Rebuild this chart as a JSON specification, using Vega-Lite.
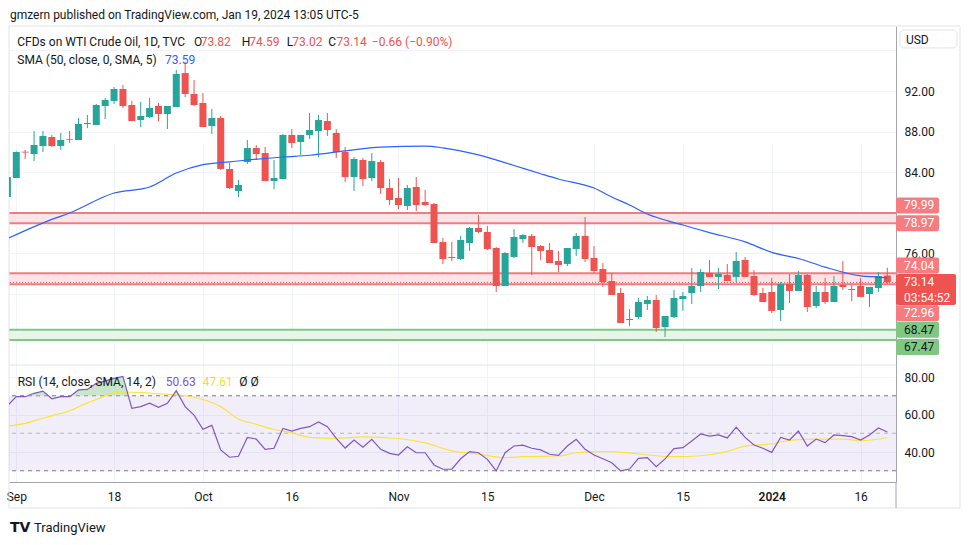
{
"$schema": "https://vega.github.io/schema/vega-lite/v6.json",
"width": 887, "height": 456,
"autosize": {"type": "none"},
"padding": {"left": 9, "top": 26, "right": 74, "bottom": 63},
"background": "white",
"datasets": {
"ohlc": [
{"i":0,"o":81.56,"h":83.73,"l":81.36,"c":83.53,"r":64.6},
{"i":1,"o":83.43,"h":86.05,"l":83.43,"c":85.99,"r":69.5},
{"i":2,"o":86.02,"h":86.19,"l":85.30,"c":85.94,"r":69.5},
{"i":3,"o":85.79,"h":88.06,"l":85.10,"c":86.68,"r":71.3},
{"i":4,"o":86.58,"h":88.06,"l":85.99,"c":87.57,"r":72.5},
{"i":5,"o":87.47,"h":87.67,"l":86.48,"c":86.58,"r":68.4},
{"i":6,"o":86.58,"h":87.86,"l":86.19,"c":87.17,"r":69.5},
{"i":7,"o":87.27,"h":88.06,"l":86.88,"c":87.20,"r":69.5},
{"i":8,"o":87.17,"h":89.34,"l":87.17,"c":88.75,"r":73.1},
{"i":9,"o":88.75,"h":89.64,"l":88.36,"c":88.85,"r":73.4},
{"i":10,"o":88.65,"h":90.72,"l":88.65,"c":90.62,"r":76.6},
{"i":11,"o":90.52,"h":91.31,"l":89.24,"c":91.11,"r":77.9},
{"i":12,"o":91.02,"h":92.39,"l":90.72,"c":92.20,"r":79.3},
{"i":13,"o":92.20,"h":92.59,"l":90.33,"c":90.52,"r":80.3},
{"i":14,"o":90.62,"h":91.02,"l":89.04,"c":89.04,"r":63.3},
{"i":15,"o":89.14,"h":90.92,"l":88.45,"c":89.54,"r":64.2},
{"i":16,"o":89.44,"h":91.31,"l":89.34,"c":90.33,"r":66.0},
{"i":17,"o":90.52,"h":90.82,"l":89.04,"c":89.73,"r":63.8},
{"i":18,"o":89.73,"h":90.52,"l":88.26,"c":90.52,"r":66.0},
{"i":19,"o":90.42,"h":94.07,"l":90.42,"c":93.68,"r":72.7},
{"i":20,"o":93.77,"h":94.86,"l":91.41,"c":91.71,"r":64.2},
{"i":21,"o":91.71,"h":93.08,"l":90.52,"c":90.62,"r":59.7},
{"i":22,"o":90.82,"h":91.80,"l":88.45,"c":88.45,"r":52.1},
{"i":23,"o":88.55,"h":90.23,"l":87.76,"c":89.34,"r":54.2},
{"i":24,"o":89.34,"h":89.54,"l":84.22,"c":84.32,"r":41.1},
{"i":25,"o":84.32,"h":84.91,"l":82.34,"c":82.44,"r":37.2},
{"i":26,"o":82.15,"h":83.23,"l":81.56,"c":82.74,"r":37.7},
{"i":27,"o":85.00,"h":87.17,"l":84.81,"c":86.38,"r":47.8},
{"i":28,"o":86.38,"h":86.68,"l":85.20,"c":85.79,"r":46.9},
{"i":29,"o":85.89,"h":86.48,"l":83.13,"c":83.13,"r":41.4},
{"i":30,"o":83.13,"h":85.20,"l":82.34,"c":83.43,"r":42.0},
{"i":31,"o":83.33,"h":87.76,"l":83.33,"c":87.67,"r":52.6},
{"i":32,"o":87.67,"h":88.26,"l":86.38,"c":86.88,"r":51.2},
{"i":33,"o":86.98,"h":87.67,"l":85.69,"c":87.67,"r":52.6},
{"i":34,"o":87.67,"h":89.83,"l":87.27,"c":88.16,"r":53.5},
{"i":35,"o":88.06,"h":89.64,"l":85.50,"c":89.14,"r":56.0},
{"i":36,"o":89.04,"h":89.83,"l":87.57,"c":88.16,"r":53.5},
{"i":37,"o":87.86,"h":88.26,"l":85.40,"c":85.99,"r":47.3},
{"i":38,"o":85.99,"h":86.48,"l":83.03,"c":83.53,"r":42.1},
{"i":39,"o":83.53,"h":85.50,"l":82.15,"c":85.30,"r":46.4},
{"i":40,"o":85.20,"h":85.40,"l":82.64,"c":83.33,"r":42.5},
{"i":41,"o":83.43,"h":85.89,"l":83.13,"c":85.10,"r":46.8},
{"i":42,"o":85.00,"h":85.20,"l":81.85,"c":82.44,"r":41.4},
{"i":43,"o":82.44,"h":83.33,"l":80.77,"c":81.26,"r":39.3},
{"i":44,"o":81.46,"h":83.43,"l":80.37,"c":80.77,"r":38.4},
{"i":45,"o":80.67,"h":82.74,"l":80.28,"c":82.44,"r":42.8},
{"i":46,"o":82.54,"h":83.53,"l":80.18,"c":80.77,"r":39.6},
{"i":47,"o":81.07,"h":82.25,"l":80.67,"c":80.77,"r":39.6},
{"i":48,"o":80.87,"h":80.97,"l":77.02,"c":77.02,"r":33.1},
{"i":49,"o":77.12,"h":77.52,"l":74.96,"c":75.45,"r":30.8},
{"i":50,"o":75.65,"h":77.12,"l":75.25,"c":75.55,"r":30.8},
{"i":51,"o":75.45,"h":77.72,"l":75.35,"c":77.32,"r":36.4},
{"i":52,"o":77.02,"h":78.60,"l":76.24,"c":78.50,"r":40.2},
{"i":53,"o":78.50,"h":79.78,"l":78.01,"c":78.11,"r":39.6},
{"i":54,"o":78.11,"h":78.70,"l":76.33,"c":76.43,"r":36.1},
{"i":55,"o":76.53,"h":76.63,"l":72.20,"c":72.79,"r":29.9},
{"i":56,"o":72.79,"h":76.14,"l":72.79,"c":76.04,"r":39.6},
{"i":57,"o":75.65,"h":78.40,"l":75.55,"c":77.62,"r":43.2},
{"i":58,"o":77.42,"h":77.91,"l":77.02,"c":77.81,"r":43.7},
{"i":59,"o":77.72,"h":77.91,"l":73.87,"c":76.63,"r":42.0},
{"i":60,"o":76.73,"h":76.83,"l":75.35,"c":76.24,"r":41.1},
{"i":61,"o":76.33,"h":77.02,"l":75.05,"c":75.05,"r":38.8},
{"i":62,"o":75.25,"h":76.24,"l":74.17,"c":74.86,"r":38.2},
{"i":63,"o":74.96,"h":76.53,"l":74.76,"c":76.53,"r":43.2},
{"i":64,"o":76.43,"h":78.01,"l":75.74,"c":77.72,"r":46.8},
{"i":65,"o":77.72,"h":79.59,"l":75.15,"c":75.45,"r":41.4},
{"i":66,"o":75.55,"h":76.73,"l":74.07,"c":74.27,"r":38.4},
{"i":67,"o":74.46,"h":75.05,"l":72.69,"c":73.18,"r":36.4},
{"i":68,"o":73.28,"h":74.07,"l":71.90,"c":71.90,"r":34.3},
{"i":69,"o":72.10,"h":72.59,"l":69.14,"c":69.14,"r":29.9},
{"i":70,"o":69.44,"h":70.52,"l":68.85,"c":69.54,"r":30.9},
{"i":71,"o":69.73,"h":71.61,"l":69.54,"c":71.21,"r":36.6},
{"i":72,"o":71.02,"h":71.80,"l":70.42,"c":71.41,"r":37.0},
{"i":73,"o":71.41,"h":71.90,"l":68.26,"c":68.65,"r":32.2},
{"i":74,"o":68.75,"h":69.83,"l":67.77,"c":69.83,"r":36.3},
{"i":75,"o":69.73,"h":72.39,"l":69.64,"c":71.61,"r":41.8},
{"i":76,"o":71.51,"h":72.20,"l":70.33,"c":71.80,"r":42.3},
{"i":77,"o":72.10,"h":74.56,"l":71.02,"c":72.79,"r":45.9},
{"i":78,"o":72.79,"h":74.46,"l":72.20,"c":74.17,"r":49.6},
{"i":79,"o":74.07,"h":75.35,"l":73.68,"c":73.68,"r":48.5},
{"i":80,"o":73.68,"h":74.56,"l":72.49,"c":73.97,"r":49.1},
{"i":81,"o":73.87,"h":74.96,"l":73.28,"c":73.28,"r":47.5},
{"i":82,"o":73.68,"h":76.14,"l":73.18,"c":75.25,"r":53.3},
{"i":83,"o":75.35,"h":75.65,"l":73.68,"c":73.68,"r":47.8},
{"i":84,"o":73.77,"h":74.37,"l":71.80,"c":71.90,"r":43.7},
{"i":85,"o":72.10,"h":72.59,"l":71.21,"c":71.21,"r":42.0},
{"i":86,"o":72.20,"h":73.58,"l":70.13,"c":70.33,"r":39.8},
{"i":87,"o":70.42,"h":73.18,"l":69.34,"c":72.99,"r":47.8},
{"i":88,"o":72.99,"h":73.97,"l":71.11,"c":72.30,"r":46.4},
{"i":89,"o":72.30,"h":74.27,"l":72.30,"c":73.87,"r":51.2},
{"i":90,"o":73.87,"h":73.97,"l":70.23,"c":70.72,"r":43.2},
{"i":91,"o":70.82,"h":72.79,"l":70.62,"c":72.20,"r":46.9},
{"i":92,"o":72.20,"h":73.58,"l":71.02,"c":71.21,"r":45.0},
{"i":93,"o":71.21,"h":73.77,"l":71.21,"c":72.79,"r":49.1},
{"i":94,"o":72.89,"h":75.25,"l":72.39,"c":72.69,"r":48.7},
{"i":95,"o":72.49,"h":72.89,"l":71.31,"c":72.39,"r":48.2},
{"i":96,"o":72.79,"h":73.58,"l":71.71,"c":71.71,"r":46.4},
{"i":97,"o":72.00,"h":72.69,"l":70.72,"c":72.69,"r":49.1},
{"i":98,"o":72.59,"h":74.17,"l":72.20,"c":73.77,"r":52.8},
{"i":99,"o":73.82,"h":74.59,"l":73.02,"c":73.14,"r":50.63}
],
"sma": [
{"i":0,"v":77.45},{"i":5,"v":79.35},{"i":7,"v":79.98},{"i":12,"v":81.95},{"i":16,"v":82.54},{"i":19,"v":83.92},{"i":22,"v":84.75},{"i":25,"v":85.02},{"i":27,"v":85.2},{"i":31,"v":85.5},{"i":34,"v":85.67},{"i":38,"v":86.1},{"i":42,"v":86.48},{"i":47,"v":86.57},{"i":49,"v":86.4},{"i":53,"v":85.7},{"i":57,"v":84.66},{"i":60,"v":83.85},{"i":62,"v":83.33},{"i":66,"v":82.44},{"i":68,"v":81.56},{"i":70,"v":80.77},{"i":72,"v":79.88},{"i":76,"v":78.8},{"i":79,"v":78.05},{"i":83,"v":77.14},{"i":86,"v":76.1},{"i":89,"v":75.5},{"i":92,"v":74.65},{"i":96,"v":73.79},{"i":98,"v":73.67},{"i":99,"v":73.59}
],
"rma": [
{"i":0,"m":53.8},{"i":2,"m":55.3},{"i":4,"m":58.0},{"i":5,"m":59.3},{"i":7,"m":62.0},{"i":9,"m":66.2},{"i":10,"m":68.0},{"i":12,"m":71.4},{"i":13,"m":72.0},{"i":15,"m":71.7},{"i":18,"m":70.8},{"i":20,"m":70.0},{"i":23,"m":66.4},{"i":24,"m":64.2},{"i":26,"m":57.6},{"i":28,"m":54.8},{"i":30,"m":52.0},{"i":32,"m":50.2},{"i":34,"m":47.8},{"i":37,"m":47.3},{"i":40,"m":48.1},{"i":44,"m":47.2},{"i":47,"m":44.9},{"i":50,"m":40.6},{"i":53,"m":38.9},{"i":56,"m":37.0},{"i":58,"m":37.5},{"i":62,"m":37.9},{"i":64,"m":39.6},{"i":67,"m":40.2},{"i":70,"m":39.5},{"i":72,"m":38.4},{"i":75,"m":37.5},{"i":78,"m":38.0},{"i":81,"m":40.3},{"i":83,"m":43.1},{"i":86,"m":44.4},{"i":88,"m":46.2},{"i":91,"m":46.9},{"i":94,"m":46.9},{"i":96,"m":46.0},{"i":99,"m":47.61}
],
"ob": [
{"i":2.28,"r":70,"g":1},{"i":3,"r":71.3,"g":1},{"i":4,"r":72.5,"g":1},{"i":4.61,"r":70,"g":1},
{"i":7.14,"r":70,"g":2},{"i":8,"r":73.1,"g":2},{"i":9,"r":73.4,"g":2},{"i":10,"r":76.6,"g":2},{"i":11,"r":77.9,"g":2},{"i":12,"r":79.3,"g":2},{"i":13,"r":80.3,"g":2},{"i":13.61,"r":70,"g":2},
{"i":18.6,"r":70,"g":3},{"i":19,"r":72.7,"g":3},{"i":19.32,"r":70,"g":3}
],
"zones": [
{"lo":78.97,"hi":79.99,"k":"r"},{"lo":72.96,"hi":74.04,"k":"r"},{"lo":67.47,"hi":68.47,"k":"g"}
],
"badges": [
{"v":79.99},{"v":78.97},{"v":74.04},{"v":72.96},{"v":68.47},{"v":67.47}
]
},
"layer": [
{
"layer": [
{"data":{"name":"zones"},"mark":{"type":"rect"},
 "encoding":{"y":{"field":"hi","type":"quantitative","scale":{"domain":[65.005,98.404],"range":[339,0],"nice":false,"zero":false,"padding":0},
   "axis":{"orient":"right","values":[68,72,76,80,84,88,92,96],"labelExpr":"(datum.value==76||datum.value==84||datum.value==88||datum.value==92)?format(datum.value,'.2f'):''","grid":true,"ticks":false,"labelPadding":8,"title":null,"domainColor":"#a3a6af","gridColor":"#f0f3fa","labelColor":"#131722","labelFontSize":12}},
  "y2":{"field":"lo"},
  "color":{"condition":{"test":"datum.k=='r'","value":"#fde4e6"},"value":"#e8f5e9"}}},
{"data":{"name":"zones"},"mark":{"type":"rule","strokeWidth":2},
 "encoding":{"y":{"field":"hi","type":"quantitative"},"color":{"condition":{"test":"datum.k=='r'","value":"#f07c82"},"value":"#81c784"}}},
{"data":{"name":"zones"},"mark":{"type":"rule","strokeWidth":2},
 "encoding":{"y":{"field":"lo","type":"quantitative"},"color":{"condition":{"test":"datum.k=='r'","value":"#f07c82"},"value":"#81c784"}}},
{"data":{"values":[{"v":73.14}]},"mark":{"type":"rule","color":"#ef5350","strokeDash":[1,2],"strokeWidth":1},
 "encoding":{"y":{"field":"v","type":"quantitative"}}},
{"data":{"values":[{}]},"mark":{"type":"rule","color":"#e0e3eb"},
 "encoding":{"x":{"datum":0.18},"x2":{"datum":107.18},"y":{"datum":98.404}}},
{"data":{"values":[{}]},"mark":{"type":"rule","color":"#e0e3eb"},
 "encoding":{"x":{"datum":0.18},"x2":{"datum":107.18},"y":{"datum":50.92}}},
{"data":{"values":[{}]},"mark":{"type":"rule","color":"#e0e3eb"},
 "encoding":{"x":{"datum":0.18},"y":{"datum":98.404},"y2":{"datum":50.92}}},
{"data":{"values":[{}]},"mark":{"type":"rule","color":"#e0e3eb"},
 "encoding":{"x":{"datum":107.18},"y":{"datum":98.404},"y2":{"datum":50.92}}},
{"data":{"values":[{}]},"mark":{"type":"rule","color":"#e0e3eb"},
 "encoding":{"x":{"datum":0.18},"x2":{"datum":99.98},"y":{"datum":65.005}}},
{"data":{"values":[{}]},"mark":{"type":"rule","color":"#a3a6af"},
 "encoding":{"x":{"datum":99.98},"y":{"datum":53.48},"y2":{"datum":50.92}}},
{"data":{"name":"ohlc"},"mark":{"type":"rule","clip":true,"strokeWidth":1},
 "encoding":{"x":{"field":"i","type":"quantitative","scale":{"domain":[0.18,99.98],"nice":false,"zero":false,"padding":0},
   "axis":{"values":[1,12,22,32,44,54,66,76,86,96],"labelExpr":"datum.value==1?'Sep':datum.value==12?'18':datum.value==22?'Oct':datum.value==32?'16':datum.value==44?'Nov':datum.value==54?'15':datum.value==66?'Dec':datum.value==76?'15':datum.value==86?'2024':datum.value==96?'16':''","grid":true,"ticks":false,"labelPadding":9,"title":null,"domainColor":"#a3a6af","gridColor":"#f0f3fa","labelColor":"#131722","labelFontSize":12,"labelOverlap":false,"labelFlush":false,"labelFontWeight":{"condition":{"test":"datum.value==86","value":600},"value":400}}},
  "y":{"field":"l","type":"quantitative"},"y2":{"field":"h"},
  "color":{"condition":{"test":"datum.c>=datum.o","value":"#26a69a"},"value":"#ef5350"}}},
{"data":{"name":"ohlc"},"mark":{"type":"bar","size":7,"clip":true},
 "encoding":{"x":{"field":"i","type":"quantitative"},"y":{"field":"o","type":"quantitative"},"y2":{"field":"c"},
  "color":{"condition":{"test":"datum.c>=datum.o","value":"#26a69a"},"value":"#ef5350"}}},
{"data":{"name":"sma"},"mark":{"type":"line","clip":true,"color":"#2962ff","strokeWidth":1.2,"interpolate":"monotone"},
 "encoding":{"x":{"field":"i","type":"quantitative"},"y":{"field":"v","type":"quantitative"}}},
{"data":{"name":"badges"},"mark":{"type":"rect","cornerRadius":2,
   "yOffset":{"expr":"(datum.v==79.99?-7.5:datum.v==74.04?-7.8:datum.v==72.96?29:datum.v==67.47?7:0)-8"},
   "y2Offset":{"expr":"(datum.v==79.99?-7.5:datum.v==74.04?-7.8:datum.v==72.96?29:datum.v==67.47?7:0)+8"}},
 "encoding":{"x":{"datum":99.98},"x2":{"datum":104.82},"y":{"field":"v","type":"quantitative"},"y2":{"field":"v"},
  "color":{"condition":{"test":"datum.v<70","value":"#81c784"},"value":"#f77c80"}}},
{"data":{"name":"badges"},"mark":{"type":"text","align":"left","baseline":"middle","fontSize":12,
   "dy":{"expr":"datum.v==79.99?-7.5:datum.v==74.04?-7.3:datum.v==72.96?29:datum.v==67.47?7:0"}},
 "encoding":{"x":{"datum":100.88},"y":{"field":"v","type":"quantitative"},"text":{"field":"v","type":"quantitative","format":".2f"},
  "color":{"condition":{"test":"datum.v<70","value":"#131722"},"value":"#ffffff"}}},
{"data":{"values":[{"v":73.14}]},"mark":{"type":"rect","cornerRadius":2,"color":"#ef5350","yOffset":-8.4,"y2Offset":22.6},
 "encoding":{"x":{"datum":99.98},"x2":{"datum":106.73},"y":{"field":"v","type":"quantitative"},"y2":{"field":"v"}}},
{"data":{"values":[{"v":73.14,"t":"73.14"}]},"mark":{"type":"text","align":"left","baseline":"middle","fontSize":12,"color":"#ffffff"},
 "encoding":{"x":{"datum":100.88},"y":{"field":"v","type":"quantitative"},"text":{"field":"t"}}},
{"data":{"values":[{"v":73.14,"t":"03:54:52"}]},"mark":{"type":"text","align":"left","baseline":"middle","fontSize":12,"color":"#ffffff","dy":15.5},
 "encoding":{"x":{"datum":100.88},"y":{"field":"v","type":"quantitative"},"text":{"field":"t"}}},
{"data":{"values":[{}]},"mark":{"type":"rect","fill":"#ffffff","stroke":"#e0e3eb","cornerRadius":4},
 "encoding":{"x":{"datum":100.43},"x2":{"datum":106.84},"y":{"datum":98.01},"y2":{"datum":96.24}}},
{"data":{"values":[{"t":"USD"}]},"mark":{"type":"text","align":"left","baseline":"middle","fontSize":12,"color":"#131722"},
 "encoding":{"x":{"datum":101.1},"y":{"datum":97.07},"text":{"field":"t"}}},
{"data":{"values":[{"t":"gmzern published on TradingView.com, Jan 19, 2024 13:05 UTC-5"}]},"mark":{"type":"text","align":"left","baseline":"middle","fontSize":12,"color":"#131722"},
 "encoding":{"x":{"datum":0.29},"y":{"datum":99.49},"text":{"field":"t"}}},
{"data":{"values":[{"t":"CFDs on WTI Crude Oil, 1D, TVC"}]},"mark":{"type":"text","align":"left","baseline":"middle","fontSize":12,"color":"#131722"},
 "encoding":{"x":{"datum":1.114},"y":{"datum":96.78},"text":{"field":"t"}}},
{"data":{"values":[{"t":"O"}]},"mark":{"type":"text","align":"left","baseline":"middle","fontSize":12,"color":"#131722"},
 "encoding":{"x":{"datum":20.995},"y":{"datum":96.78},"text":{"field":"t"}}},
{"data":{"values":[{"t":"73.82"}]},"mark":{"type":"text","align":"left","baseline":"middle","fontSize":12,"color":"#ef5350"},
 "encoding":{"x":{"datum":21.749},"y":{"datum":96.78},"text":{"field":"t"}}},
{"data":{"values":[{"t":"H"}]},"mark":{"type":"text","align":"left","baseline":"middle","fontSize":12,"color":"#131722"},
 "encoding":{"x":{"datum":26.36},"y":{"datum":96.78},"text":{"field":"t"}}},
{"data":{"values":[{"t":"74.59"}]},"mark":{"type":"text","align":"left","baseline":"middle","fontSize":12,"color":"#ef5350"},
 "encoding":{"x":{"datum":27.22},"y":{"datum":96.78},"text":{"field":"t"}}},
{"data":{"values":[{"t":"L"}]},"mark":{"type":"text","align":"left","baseline":"middle","fontSize":12,"color":"#131722"},
 "encoding":{"x":{"datum":31.42},"y":{"datum":96.78},"text":{"field":"t"}}},
{"data":{"values":[{"t":"73.02"}]},"mark":{"type":"text","align":"left","baseline":"middle","fontSize":12,"color":"#ef5350"},
 "encoding":{"x":{"datum":32.05},"y":{"datum":96.78},"text":{"field":"t"}}},
{"data":{"values":[{"t":"C"}]},"mark":{"type":"text","align":"left","baseline":"middle","fontSize":12,"color":"#131722"},
 "encoding":{"x":{"datum":36.11},"y":{"datum":96.78},"text":{"field":"t"}}},
{"data":{"values":[{"t":"73.14"}]},"mark":{"type":"text","align":"left","baseline":"middle","fontSize":12,"color":"#ef5350"},
 "encoding":{"x":{"datum":37.03},"y":{"datum":96.78},"text":{"field":"t"}}},
{"data":{"values":[{"t":"−0.66 (−0.90%)"}]},"mark":{"type":"text","align":"left","baseline":"middle","fontSize":12,"color":"#ef5350"},
 "encoding":{"x":{"datum":41.0},"y":{"datum":96.78},"text":{"field":"t"}}},
{"data":{"values":[{"t":"SMA (50, close, 0, SMA, 5)"}]},"mark":{"type":"text","align":"left","baseline":"middle","fontSize":12,"color":"#131722"},
 "encoding":{"x":{"datum":1.114},"y":{"datum":95.10},"text":{"field":"t"}}},
{"data":{"values":[{"t":"73.59"}]},"mark":{"type":"text","align":"left","baseline":"middle","fontSize":12,"color":"#2962ff"},
 "encoding":{"x":{"datum":17.73},"y":{"datum":95.10},"text":{"field":"t"}}},
{"data":{"values":[{"t":"TV"}]},"mark":{"type":"text","align":"left","baseline":"middle","fontSize":14,"fontWeight":900,"font":"DejaVu Sans","color":"#131722"},
 "encoding":{"x":{"datum":0.29},"y":{"datum":48.95},"text":{"field":"t"}}},
{"data":{"values":[{"t":"TradingView"}]},"mark":{"type":"text","align":"left","baseline":"middle","fontSize":13,"color":"#131722"},
 "encoding":{"x":{"datum":2.99},"y":{"datum":48.95},"text":{"field":"t"}}}
]
},
{
"layer": [
{"data":{"values":[{"a":70,"b":30}]},"mark":{"type":"rect","color":"#7e57c2","opacity":0.1},
 "encoding":{"y":{"field":"a","type":"quantitative","scale":{"domain":[24,86.4],"range":[456,339],"nice":false,"zero":false,"padding":0},
   "axis":{"orient":"right","values":[40,60,80],"format":".2f","grid":true,"ticks":false,"labelPadding":8,"title":null,"domainColor":"#a3a6af","gridColor":"#f0f3fa","labelColor":"#131722","labelFontSize":12}},
  "y2":{"field":"b"}}},
{"data":{"values":[{"v":70},{"v":30}]},"mark":{"type":"rule","color":"#787b86","strokeDash":[4,4],"strokeWidth":1},
 "encoding":{"y":{"field":"v","type":"quantitative"}}},
{"data":{"values":[{"v":50}]},"mark":{"type":"rule","color":"#b2b5be","strokeDash":[4,4],"strokeWidth":1},
 "encoding":{"y":{"field":"v","type":"quantitative"}}},
{"data":{"name":"ob"},"mark":{"type":"area","clip":true,"color":"#a5d6a7","opacity":0.6},
 "encoding":{"x":{"field":"i","type":"quantitative"},"y":{"field":"r","type":"quantitative"},"y2":{"datum":70},"detail":{"field":"g"}}},
{"data":{"name":"rma"},"mark":{"type":"line","clip":true,"color":"#fbe33b","strokeWidth":1.2,"interpolate":"monotone"},
 "encoding":{"x":{"field":"i","type":"quantitative"},"y":{"field":"m","type":"quantitative"}}},
{"data":{"name":"ohlc"},"mark":{"type":"line","clip":true,"color":"#7e57c2","strokeWidth":1.2},
 "encoding":{"x":{"field":"i","type":"quantitative"},"y":{"field":"r","type":"quantitative"}}},
{"data":{"values":[{"t":"RSI (14, close, SMA, 14, 2)"}]},"mark":{"type":"text","align":"left","baseline":"middle","fontSize":12,"color":"#131722"},
 "encoding":{"x":{"datum":1.16},"y":{"datum":77.49},"text":{"field":"t"}}},
{"data":{"values":[{"t":"50.63"}]},"mark":{"type":"text","align":"left","baseline":"middle","fontSize":12,"color":"#7e57c2"},
 "encoding":{"x":{"datum":17.81},"y":{"datum":77.49},"text":{"field":"t"}}},
{"data":{"values":[{"t":"47.61"}]},"mark":{"type":"text","align":"left","baseline":"middle","fontSize":12,"color":"#f5dd2a"},
 "encoding":{"x":{"datum":21.97},"y":{"datum":77.49},"text":{"field":"t"}}},
{"data":{"values":[{"t":"Ø  Ø"}]},"mark":{"type":"text","align":"left","baseline":"middle","fontSize":12,"color":"#131722"},
 "encoding":{"x":{"datum":26.09},"y":{"datum":77.49},"text":{"field":"t"}}}
]
}
],
"resolve": {"scale": {"y": "independent"}, "axis": {"y": "independent"}},
"config": {
 "font": "Roboto",
 "view": {"stroke": null},
 "axis": {"labelFont": "Roboto", "ticks": false, "title": null}
}
}
